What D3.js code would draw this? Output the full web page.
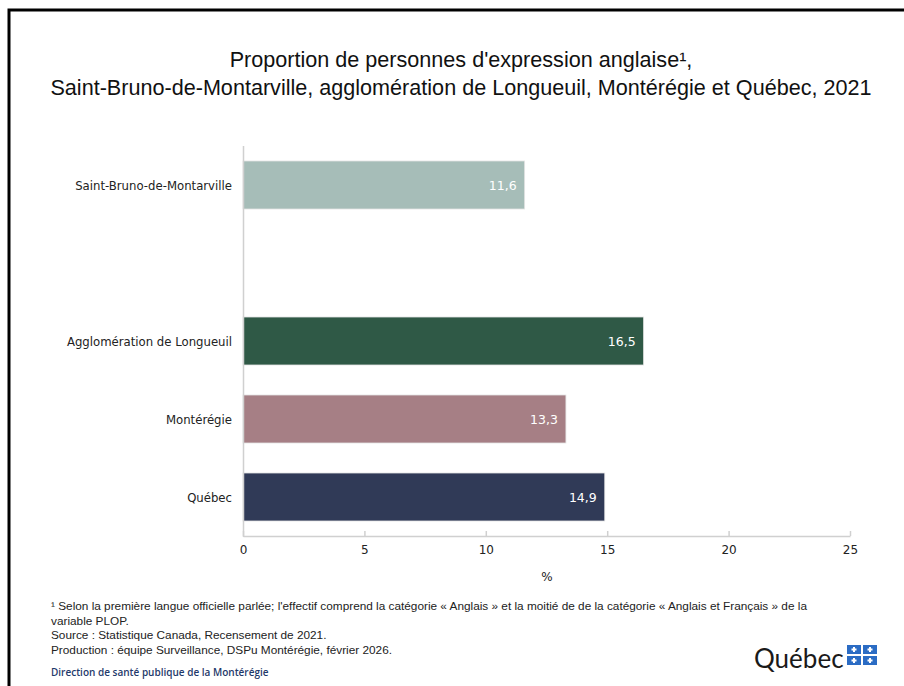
<!DOCTYPE html>
<html>
<head>
<meta charset="utf-8">
<script src="https://cdn.jsdelivr.net/npm/d3@7"></script>
<style>
  body { margin: 0; background: #fff; }
  svg { display: block; }
</style>
</head>
<body>
<script>
// donnees du graphique
var categories = ['Saint-Bruno-de-Montarville', '', 'Agglomération de Longueuil', 'Montérégie', 'Québec'];
var valeurs = [11.6, null, 16.5, 13.3, 14.9];
var couleurs = ['#a6bdb8', null, '#2f5946', '#a67f85', '#303a57'];
var ticksX = [0, 5, 10, 15, 20, 25];
var titre = ["Proportion de personnes d'expression anglaise\u00b9,",
  'Saint-Bruno-de-Montarville, agglomération de Longueuil, Montérégie et Québec, 2021'];
var notes = [
  '\u00b9 Selon la première langue officielle parlée; l\'effectif comprend la catégorie « Anglais » et la moitié de de la catégorie « Anglais et Français » de la',
  'variable PLOP.',
  'Source : Statistique Canada, Recensement de 2021.',
  'Production : équipe Surveillance, DSPu Montérégie, février 2026.'
];

var w = 904, h = 686;
var svg = d3.select('body').append('svg').attr('width', w).attr('height', h);

// cadre
svg.append('path')
  .attr('d', 'M9,' + h + 'V10H' + (w + 5))
  .attr('fill', 'none').attr('stroke', '#000').attr('stroke-width', 3);

// titre
svg.append('g').selectAll('text').data(titre).enter().append('text')
  .attr('x', 461).attr('y', function(d, i) { return 67 + i * 28; })
  .attr('text-anchor', 'middle')
  .attr('font-family', 'Liberation Sans, sans-serif')
  .attr('font-size', 21.6).attr('fill', '#111')
  .text(function(d) { return d; });

var x = d3.scaleLinear().domain([0, 25]).range([243, 850]);
var y = d3.scaleBand().domain(categories).range([146, 536]).paddingInner(30 / 78).paddingOuter(15 / 78);

var data = categories.map(function(c, i) { return { cat: c, val: valeurs[i], col: couleurs[i] }; })
  .filter(function(d) { return d.val !== null; });

// axe x
var axeX = svg.append('g').attr('transform', 'translate(0,536)')
  .call(d3.axisBottom(x).tickValues(ticksX).tickSizeInner(-5).tickSizeOuter(0).tickPadding(9));
axeX.select('.domain').attr('stroke', '#d0d0d0').attr('stroke-width', 1.5);
axeX.selectAll('.tick line').attr('stroke', '#d0d0d0').attr('stroke-width', 1.5);
axeX.selectAll('.tick text').attr('font-family', 'DejaVu Sans, sans-serif').attr('font-size', 12).attr('fill', '#222');

svg.append('text').attr('x', 547).attr('y', 581).attr('text-anchor', 'middle')
  .attr('font-family', 'DejaVu Sans, sans-serif').attr('font-size', 12).attr('fill', '#222').text('%');

// barres
svg.append('g').selectAll('rect').data(data).enter().append('rect')
  .attr('x', x(0)).attr('y', function(d) { return y(d.cat); })
  .attr('width', function(d) { return x(d.val) - x(0); })
  .attr('height', y.bandwidth())
  .attr('fill', function(d) { return d.col; })
  .attr('stroke', '#e4e4e4').attr('stroke-width', 0.8);

// axe y
svg.append('line').attr('x1', 243.5).attr('x2', 243.5).attr('y1', 146).attr('y2', 537)
  .attr('stroke', '#d0d0d0').attr('stroke-width', 1.5);

svg.append('g').selectAll('text').data(data).enter().append('text')
  .attr('x', 232).attr('y', function(d) { return y(d.cat) + y.bandwidth() / 2 + 4.5; })
  .attr('text-anchor', 'end')
  .attr('font-family', 'DejaVu Sans Condensed, DejaVu Sans, sans-serif').attr('font-size', 13).attr('fill', '#222')
  .text(function(d) { return d.cat; });

// etiquettes des valeurs
svg.append('g').selectAll('text').data(data).enter().append('text')
  .attr('x', function(d) { return x(d.val) - 8; })
  .attr('y', function(d) { return y(d.cat) + y.bandwidth() / 2 + 5; })
  .attr('text-anchor', 'end')
  .attr('font-family', 'DejaVu Sans, sans-serif').attr('font-size', 12.5).attr('fill', '#fff')
  .text(function(d) { return String(d.val).replace('.', ','); });

// notes
svg.append('g').selectAll('text').data(notes).enter().append('text')
  .attr('x', 51).attr('y', function(d, i) { return 610 + i * 14.5; })
  .attr('font-family', 'Liberation Sans, sans-serif')
  .attr('font-size', 11.8).attr('fill', '#222')
  .text(function(d) { return d; });

svg.append('text').attr('x', 51).attr('y', 676)
  .attr('font-family', 'Open Sans, sans-serif').attr('font-size', 10).attr('font-weight', 600)
  .attr('fill', '#1f3a6b').text('Direction de santé publique de la Montérégie');

// logo Quebec
svg.append('text').attr('x', 754).attr('y', 668)
  .attr('font-family', 'Lato, sans-serif').attr('font-size', 26).attr('fill', '#1a1a1a')
  .text('Québec');
var logo = svg.append('g').attr('transform', 'translate(847,645)');
[[0, 0], [16, 0], [0, 11], [16, 11]].forEach(function(p) {
  logo.append('rect').attr('x', p[0]).attr('y', p[1]).attr('width', 14).attr('height', 9).attr('fill', '#2b6cc4');
  logo.append('rect').attr('x', p[0] + 6).attr('y', p[1] + 2).attr('width', 2).attr('height', 5).attr('fill', '#fff');
  logo.append('rect').attr('x', p[0] + 4.5).attr('y', p[1] + 3.5).attr('width', 5).attr('height', 2).attr('fill', '#fff');
});
</script>
</body>
</html>
